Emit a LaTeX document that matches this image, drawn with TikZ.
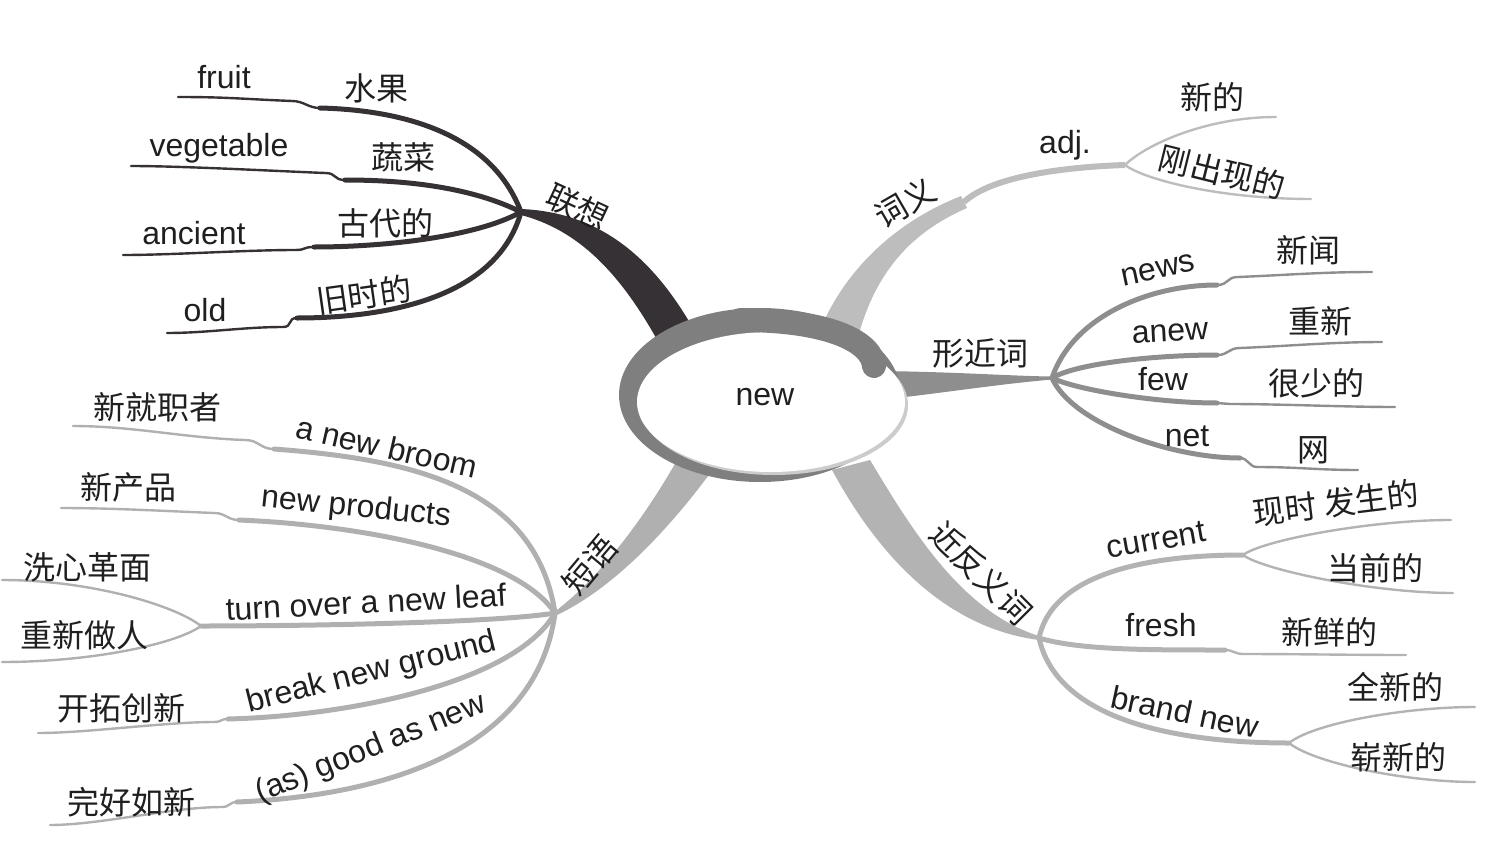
\documentclass[tikz,border=0pt]{standalone}
\usepackage{fontspec}
\setmainfont{Liberation Sans}
\newfontfamily\cjk{Noto Sans CJK SC}
\usetikzlibrary{calc}

\definecolor{lxc}{HTML}{363134}
\definecolor{cyc}{HTML}{BDBDBD}
\definecolor{xjc}{HTML}{8E8E8E}
\definecolor{jfc}{HTML}{B3B3B3}
\definecolor{dyc}{HTML}{B0B0B0}
\definecolor{ringc}{HTML}{7F7F7F}

\tikzset{
  en/.style={font=\fontsize{16}{18}\selectfont, text=black!88, inner sep=0pt},
  zh/.style={font=\cjk\fontsize{16}{18}\selectfont, text=black!88, inner sep=0pt},
  twig/.style={line width=2.5pt, line cap=round},
  leaf/.style={line width=1.2pt, line cap=round},
}

\begin{document}
\begin{tikzpicture}[x=0.5pt,y=-0.5pt]
\useasboundingbox (0,0) rectangle (1494,862);

\coordinate (lx) at (521,212);
\coordinate (dy) at (555,613);
\coordinate (xj) at (1052,378);
\coordinate (cyB) at (964,202);
\coordinate (cy) at (1125,165);
\coordinate (jf) at (1039,638);

% lianxiang
\coordinate (fruitA) at (320,108); \coordinate (fruitB) at (292,101); \coordinate (fruitC) at (178,97);
\coordinate (vegA) at (345,180); \coordinate (vegB) at (325,173); \coordinate (vegC) at (131,166);
\coordinate (ancA) at (314,247); \coordinate (ancB) at (295,250); \coordinate (ancC) at (123,255);
\coordinate (oldA) at (297,318); \coordinate (oldB) at (283,327); \coordinate (oldC) at (167,333);
\fill[lxc] (660,345) .. controls (620,272) and (578,230) .. ($(lx)+(0,3)$) -- ($(lx)+(0,-3)$) .. controls (595,212) and (650,252) .. (694,330) -- cycle;
\draw[lxc, twig] (lx) .. controls +(-30,-80) and +(80,2) .. (fruitA);
\draw[lxc, leaf] (fruitA) .. controls +(-12,0) and +(12,0) .. (fruitB) .. controls +(-50,-2) and +(50,0) .. (fruitC);
\draw[lxc, twig] (lx) .. controls +(-50,-25) and +(60,0) .. (vegA);
\draw[lxc, leaf] (vegA) .. controls +(-12,0) and +(12,0) .. (vegB) .. controls +(-50,-2) and +(50,0) .. (vegC);
\draw[lxc, twig] (lx) .. controls +(-45,25) and +(70,0) .. (ancA);
\draw[lxc, leaf] (ancA) .. controls +(-12,0) and +(12,0) .. (ancB) .. controls +(-50,0) and +(50,0) .. (ancC);
\draw[lxc, twig] (lx) .. controls +(-25,90) and +(80,0) .. (oldA);
\draw[lxc, leaf] (oldA) .. controls +(-10,0) and +(10,0) .. (oldB) .. controls +(-40,0) and +(40,0) .. (oldC);

% duanyu
\coordinate (broomA) at (274,449); \coordinate (broomB) at (245,440); \coordinate (broomC) at (73,426);
\coordinate (prodA) at (239,520); \coordinate (prodB) at (214,513); \coordinate (prodC) at (61,508);
\coordinate (leafA) at (201,626); \coordinate (leafB) at (2,580); \coordinate (leafC) at (2,662);
\coordinate (groundA) at (228,719); \coordinate (groundB) at (214,722); \coordinate (groundC) at (38,733);
\coordinate (goodA) at (237,802); \coordinate (goodB) at (222,807); \coordinate (goodC) at (50,825);
\fill[dyc] (676,462) .. controls (640,525) and (595,582) .. ($(dy)+(-2,0)$) -- ($(dy)+(2,2)$) .. controls (610,590) and (665,535) .. (714,468) -- cycle;
\draw[dyc, twig] (dy) .. controls +(-20,-130) and +(130,10) .. (broomA);
\draw[dyc, leaf] (broomA) .. controls +(-14,0) and +(14,0) .. (broomB) .. controls +(-60,-2) and +(60,0) .. (broomC);
\draw[dyc, twig] (dy) .. controls +(-40,-60) and +(120,5) .. (prodA);
\draw[dyc, leaf] (prodA) .. controls +(-12,0) and +(12,0) .. (prodB) .. controls +(-50,-2) and +(50,0) .. (prodC);
\draw[dyc, twig] (dy) .. controls +(-60,10) and +(100,0) .. (leafA);
\draw[dyc, leaf] (leafA) .. controls +(-25,-20) and +(90,0) .. (leafB);
\draw[dyc, leaf] (leafA) .. controls +(-25,18) and +(90,0) .. (leafC);
\draw[dyc, twig] (dy) .. controls +(-40,70) and +(120,-3) .. (groundA);
\draw[dyc, leaf] (groundA) .. controls +(-8,0) and +(8,0) .. (groundB) .. controls +(-50,0) and +(50,0) .. (groundC);
\draw[dyc, twig] (dy) .. controls +(-20,150) and +(120,-5) .. (goodA);
\draw[dyc, leaf] (goodA) .. controls +(-8,0) and +(8,0) .. (goodB) .. controls +(-50,0) and +(50,0) .. (goodC);

% xingjinci
\coordinate (newsA) at (1217,285); \coordinate (newsB) at (1238,277); \coordinate (newsC) at (1372,272);
\coordinate (anewA) at (1217,355); \coordinate (anewB) at (1240,348); \coordinate (anewC) at (1382,342);
\coordinate (fewA) at (1217,403); \coordinate (fewB) at (1230,404); \coordinate (fewC) at (1395,407);
\coordinate (netA) at (1240,458); \coordinate (netB) at (1257,467); \coordinate (netC) at (1358,470);
\fill[xjc] (880,371) .. controls (960,372) and (1010,376) .. ($(xj)+(0,-1.5)$) -- ($(xj)+(0,1.5)$) .. controls (1000,384) and (950,392) .. (880,400) -- cycle;
\draw[xjc, twig] (xj) .. controls +(20,-60) and +(-70,0) .. (newsA);
\draw[xjc, leaf] (newsA) .. controls +(12,0) and +(-12,0) .. (newsB) .. controls +(50,-2) and +(-50,0) .. (newsC);
\draw[xjc, twig] (xj) .. controls +(25,-15) and +(-60,0) .. (anewA);
\draw[xjc, leaf] (anewA) .. controls +(12,0) and +(-12,0) .. (anewB) .. controls +(50,-2) and +(-50,0) .. (anewC);
\draw[xjc, twig] (xj) .. controls +(25,12) and +(-60,0) .. (fewA);
\draw[xjc, leaf] (fewA) .. controls +(6,0) and +(-6,0) .. (fewB) .. controls +(50,0) and +(-50,0) .. (fewC);
\draw[xjc, twig] (xj) .. controls +(20,45) and +(-70,0) .. (netA);
\draw[xjc, leaf] (netA) .. controls +(8,0) and +(-8,0) .. (netB) .. controls +(40,0) and +(-40,0) .. (netC);

% ciyi
\coordinate (xindeC) at (1276,117); \coordinate (gangC) at (1311,199);
\fill[cyc] (820,330) .. controls (845,270) and (895,222) .. ($(cyB)+(-3,-6)$) -- ($(cyB)+(3,6)$) .. controls (912,232) and (878,270) .. (860,330) -- cycle;
\draw[cyc, line width=3pt] (cyB) .. controls +(28,-26) and +(-60,2) .. (cy);
\draw[cyc, leaf] (cy) .. controls +(20,-20) and +(-70,0) .. (xindeC);
\draw[cyc, leaf] (cy) .. controls +(20,15) and +(-90,0) .. (gangC);

% jinfanyici
\coordinate (curA) at (1243,555); \coordinate (curB) at (1451,520); \coordinate (curC) at (1453,593);
\coordinate (freshA) at (1225,650); \coordinate (freshB) at (1243,654); \coordinate (freshC) at (1406,655);
\coordinate (brandA) at (1289,743); \coordinate (brandB) at (1475,707); \coordinate (brandC) at (1475,782);
\fill[jfc] (832,470) .. controls (878,555) and (945,628) .. ($(jf)+(0,2)$) -- ($(jf)+(0,-2)$) .. controls (962,612) and (912,530) .. (870,460) -- cycle;
\draw[jfc, twig] (jf) .. controls +(15,-70) and +(-80,0) .. (curA);
\draw[jfc, leaf] (curA) .. controls +(20,-15) and +(-80,0) .. (curB);
\draw[jfc, leaf] (curA) .. controls +(20,15) and +(-80,0) .. (curC);
\draw[jfc, twig] (jf) .. controls +(40,12) and +(-80,0) .. (freshA);
\draw[jfc, leaf] (freshA) .. controls +(8,0) and +(-8,0) .. (freshB) .. controls +(50,0) and +(-50,0) .. (freshC);
\draw[jfc, twig] (jf) .. controls +(20,90) and +(-90,0) .. (brandA);
\draw[jfc, leaf] (brandA) .. controls +(25,-20) and +(-70,0) .. (brandB);
\draw[jfc, leaf] (brandA) .. controls +(25,20) and +(-70,0) .. (brandC);

% centre
\fill[ringc] (760,395) ellipse [x radius=141, y radius=87];
\fill[black!20] (774,405) ellipse [x radius=134, y radius=70];
\fill[white] (771,402) ellipse [x radius=134, y radius=70];
\draw[ringc, line width=12pt, line cap=round] (740,320) .. controls (830,320) and (872,342) .. (874,366);
\node[en] (new) at (765,397) {new};

% labels
\node[zh, rotate=-25] (lianxiang) at (578,207) {联想};
\node[en] (fruit) at (224,77) {fruit};
\node[zh] (shuiguo) at (376,88) {水果};
\node[en] (vegetable) at (219,148) {vegetable};
\node[zh] (shucai) at (403,157) {蔬菜};
\node[en] (ancient) at (194,233) {ancient};
\node[zh] (gudaide) at (385,223) {古代的};
\node[en] (old) at (205,310) {old};
\node[zh, rotate=8] (jiushide) at (364,295) {旧时的};

\node[zh, rotate=50] (duanyu) at (590,565) {短语};
\node[en, rotate=-13] (broom) at (387,447) {a new broom};
\node[zh] (xinjiu) at (157,407) {新就职者};
\node[en, rotate=-6] (products) at (356,508) {new products};
\node[zh] (xinchanpin) at (128,487) {新产品};
\node[en, rotate=3] (leaf) at (366,602) {turn over a new leaf};
\node[zh] (xixin) at (88,567) {洗心革面};
\node[zh] (chongxinzuo) at (84,635) {重新做人};
\node[en, rotate=14] (ground) at (372,673) {break new ground};
\node[zh] (kaituo) at (121,708) {开拓创新};
\node[en, rotate=22] (good) at (371,749) {(as) good as new};
\node[zh] (wanhao) at (132,802) {完好如新};

\node[zh, rotate=30] (ciyi) at (905,203) {词义};
\node[en] (adj) at (1065,145) {adj.};
\node[zh] (xinde) at (1212,97) {新的};
\node[zh, rotate=-14] (gang) at (1222,172) {刚出现的};

\node[zh] (xingjin) at (980,353) {形近词};
\node[en, rotate=12] (news) at (1158,270) {news};
\node[zh] (xinwen) at (1308,250) {新闻};
\node[en, rotate=3] (anew) at (1170,333) {anew};
\node[zh] (chongxin) at (1320,321) {重新};
\node[en] (few) at (1163,379) {few};
\node[zh] (henshao) at (1316,383) {很少的};
\node[en] (net) at (1187,436) {net};
\node[zh] (wang) at (1313,450) {网};

\node[zh, rotate=-45] (jinfan) at (981,573) {近反义词};
\node[en, rotate=10] (current) at (1156,540) {current};
\node[zh, rotate=7] (xianshi) at (1336,503) {现时 发生的};
\node[zh] (dangqian) at (1375,568) {当前的};
\node[en] (fresh) at (1161,625) {fresh};
\node[zh] (xinxian) at (1329,632) {新鲜的};
\node[en, rotate=-12] (brand) at (1185,712) {brand new};
\node[zh] (quanxin) at (1395,687) {全新的};
\node[zh] (zhanxin) at (1398,757) {崭新的};
\end{tikzpicture}
\end{document}
